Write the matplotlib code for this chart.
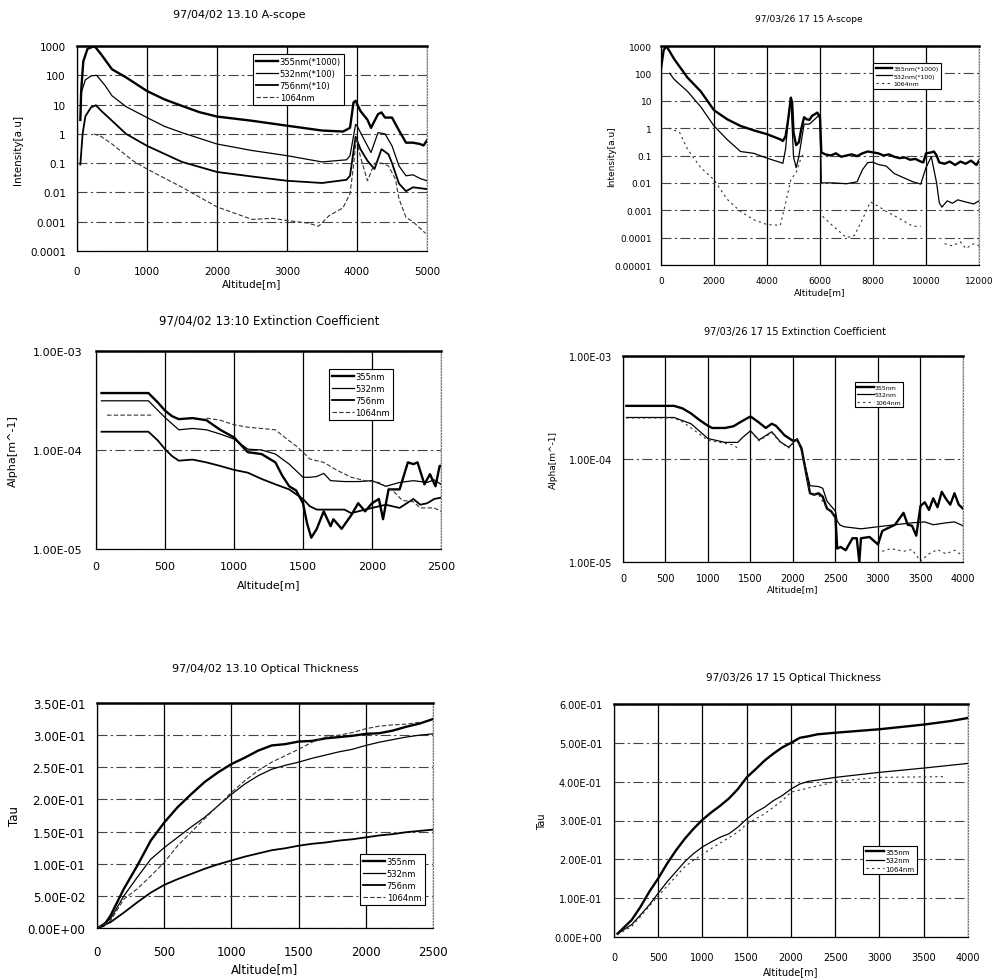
import matplotlib
matplotlib.use("Agg")
import matplotlib.pyplot as plt
from matplotlib.ticker import NullLocator
import numpy as np

W, H = 995, 979

# ---- 97/04/02 13:10 A-scope  (altitude [m], intensity [a.u]) ----
s1_355 = [(48, 3), (60, 30), (90, 300), (150, 800), (250, 1000), (350, 500), (500, 160),
          (700, 85), (1000, 29), (1250, 15), (1500, 9), (1750, 5.5), (2000, 3.9), (2500, 2.8),
          (3000, 1.9), (3500, 1.3), (3800, 1.2), (3900, 1.6), (3950, 11.7), (3980, 13.5),
          (4050, 6), (4150, 3), (4200, 1.6), (4300, 4.7), (4350, 5.4), (4400, 3.6), (4500, 3.6),
          (4600, 1.3), (4700, 0.5), (4800, 0.5), (4900, 0.45), (4950, 0.4), (5000, 0.6)]
s1_532 = [(50, 20), (70, 30), (120, 70), (200, 95), (280, 100), (400, 45), (500, 20),
          (700, 8.5), (1000, 3.6), (1250, 1.8), (1500, 1.1), (2000, 0.45), (2500, 0.27),
          (3000, 0.18), (3500, 0.11), (3850, 0.13), (3900, 0.18), (3980, 2.1), (4000, 1.9),
          (4100, 0.65), (4200, 0.23), (4300, 1.1), (4400, 1.0), (4500, 0.39), (4600, 0.08),
          (4700, 0.037), (4800, 0.04), (4900, 0.03), (5000, 0.025)]
s1_756 = [(48, 0.09), (80, 1.0), (120, 4), (200, 8), (270, 9.5), (350, 6), (500, 2.8),
          (700, 1.0), (1000, 0.39), (1500, 0.11), (2000, 0.05), (2500, 0.035), (3000, 0.025),
          (3500, 0.021), (3850, 0.027), (3900, 0.037), (3980, 0.8), (4050, 0.3), (4150, 0.12),
          (4250, 0.063), (4350, 0.3), (4450, 0.2), (4500, 0.1), (4600, 0.02), (4700, 0.011),
          (4800, 0.015), (5000, 0.013)]
s1_1064 = [(240, 1), (350, 0.8), (500, 0.45), (800, 0.12), (1000, 0.063), (1500, 0.015),
           (2000, 0.0032), (2500, 0.0012), (2800, 0.0013), (3000, 0.0011), (3300, 0.0009),
           (3450, 0.0007), (3600, 0.0016), (3800, 0.003), (3900, 0.009), (3950, 0.08),
           (3990, 0.75), (4050, 0.16), (4150, 0.025), (4250, 0.1), (4350, 0.1), (4450, 0.08),
           (4550, 0.028), (4600, 0.006), (4700, 0.0014), (4800, 0.001), (4900, 0.0006),
           (4980, 0.0004)]

# ---- 97/03/26 17:15 A-scope ----
s2_355 = [(0, 150), (100, 700), (200, 1000), (300, 700), (500, 330), (1000, 70), (1500, 22),
          (2000, 4.5), (2500, 2.1), (3000, 1.2), (3500, 0.83), (4000, 0.6), (4500, 0.39),
          (4600, 0.34), (4700, 0.5), (4800, 2.1), (4900, 13), (4950, 8.5), (5000, 0.7),
          (5100, 0.24), (5200, 0.3), (5300, 1.0), (5400, 2.5), (5500, 2.1), (5600, 2.0),
          (5700, 2.8), (5800, 3.2), (5900, 3.7), (6000, 2.4), (6050, 0.13), (6200, 0.11),
          (6400, 0.1), (6600, 0.12), (6800, 0.09), (7000, 0.1), (7200, 0.11), (7400, 0.095),
          (7600, 0.12), (7800, 0.14), (8000, 0.13), (8200, 0.12), (8400, 0.1), (8600, 0.11),
          (8800, 0.09), (9000, 0.08), (9200, 0.085), (9400, 0.07), (9600, 0.075), (9800, 0.06),
          (9900, 0.056), (10000, 0.12), (10200, 0.13), (10300, 0.14), (10400, 0.1),
          (10500, 0.056), (10700, 0.05), (10900, 0.06), (11100, 0.045), (11300, 0.06),
          (11500, 0.05), (11700, 0.065), (11900, 0.045), (12000, 0.064)]
s2_532 = [(330, 100), (500, 60), (1000, 22), (1500, 6), (2000, 1.2), (2500, 0.38),
          (3000, 0.14), (3500, 0.12), (4000, 0.08), (4500, 0.056), (4600, 0.052), (4700, 0.17),
          (4800, 2.1), (4900, 13), (5000, 0.09), (5100, 0.036), (5200, 0.09), (5400, 1.4),
          (5600, 1.4), (5800, 2.1), (6000, 3.2), (6050, 0.01), (6500, 0.01), (7000, 0.0093),
          (7400, 0.011), (7600, 0.03), (7800, 0.055), (8000, 0.057), (8200, 0.047),
          (8500, 0.041), (8800, 0.022), (9000, 0.018), (9500, 0.011), (9800, 0.009),
          (10000, 0.036), (10200, 0.09), (10400, 0.01), (10500, 0.0019), (10600, 0.0013),
          (10800, 0.0022), (11000, 0.0018), (11200, 0.0024), (11500, 0.002), (11800, 0.0017),
          (12000, 0.0022)]
s2_1064 = [(300, 1), (700, 0.7), (1000, 0.17), (1500, 0.036), (2000, 0.013), (2500, 0.0025),
           (3000, 0.0009), (3500, 0.00045), (4000, 0.0003), (4500, 0.00028), (4700, 0.0018),
           (4900, 0.013), (5100, 0.024), (5300, 0.09), (5400, 0.12), (np.nan, np.nan),
           (6100, 0.0006), (6500, 0.00026), (7000, 0.0001), (7300, 0.00012), (7600, 0.00046),
           (7900, 0.002), (8200, 0.0014), (8500, 0.0009), (9000, 0.0005), (9500, 0.00026),
           (9800, 0.00026), (np.nan, np.nan), (10700, 0.00006), (11000, 0.00005),
           (11300, 0.00007), (11500, 0.00004), (11800, 0.00006), (12000, 0.00005)]

# ---- 97/04/02 13:10 Extinction Coefficient  (altitude [m], alpha [1/m]) ----
s3_355 = [(40, 3.76e-4), (380, 3.76e-4), (450, 3.0e-4), (500, 2.5e-4), (550, 2.2e-4),
          (600, 2.05e-4), (700, 2.1e-4), (800, 2.0e-4), (900, 1.6e-4), (1000, 1.34e-4),
          (1100, 9.5e-5), (1200, 9.1e-5), (1300, 7.5e-5), (1350, 5.5e-5), (1400, 4.3e-5),
          (1450, 3.9e-5), (1500, 2.9e-5), (1530, 1.8e-5), (1560, 1.3e-5), (1600, 1.6e-5),
          (1650, 2.4e-5), (1700, 1.7e-5), (1720, 2.0e-5), (1780, 1.6e-5), (1850, 2.2e-5),
          (1900, 2.9e-5), (1950, 2.4e-5), (2000, 2.9e-5), (2050, 3.2e-5), (2080, 2.0e-5),
          (2120, 4.0e-5), (2200, 4.0e-5), (2260, 7.5e-5), (2300, 7.2e-5), (2330, 7.5e-5),
          (2380, 4.5e-5), (2420, 5.7e-5), (2460, 4.3e-5), (2490, 6.9e-5), (2500, 6.9e-5)]
s3_532 = [(40, 3.14e-4), (380, 3.14e-4), (450, 2.5e-4), (500, 2.13e-4), (600, 1.6e-4),
          (700, 1.65e-4), (800, 1.6e-4), (900, 1.45e-4), (1000, 1.29e-4), (1100, 1.02e-4),
          (1200, 1.0e-4), (1300, 9.1e-5), (1400, 7.2e-5), (1500, 5.3e-5), (1550, 5.3e-5),
          (1600, 5.4e-5), (1650, 5.8e-5), (1700, 4.9e-5), (1800, 4.8e-5), (1900, 4.8e-5),
          (2000, 4.9e-5), (2100, 4.3e-5), (2200, 4.7e-5), (2300, 4.9e-5), (2400, 4.7e-5),
          (2450, 5.0e-5), (2500, 4.5e-5)]
s3_756 = [(40, 1.53e-4), (380, 1.53e-4), (450, 1.24e-4), (500, 1.02e-4), (550, 8.7e-5),
          (600, 7.8e-5), (700, 8.0e-5), (800, 7.5e-5), (900, 6.9e-5), (1000, 6.3e-5),
          (1100, 5.9e-5), (1200, 5.1e-5), (1300, 4.5e-5), (1400, 4.0e-5), (1500, 3.2e-5),
          (1550, 2.7e-5), (1600, 2.5e-5), (1700, 2.5e-5), (1800, 2.5e-5), (1850, 2.3e-5),
          (1900, 2.4e-5), (2000, 2.6e-5), (2100, 2.8e-5), (2200, 2.6e-5), (2300, 3.2e-5),
          (2350, 2.8e-5), (2400, 2.9e-5), (2450, 3.2e-5), (2500, 3.3e-5)]
s3_1064 = [(80, 2.25e-4), (400, 2.25e-4), (np.nan, np.nan), (800, 2.1e-4), (900, 2.0e-4),
           (1000, 1.8e-4), (1100, 1.7e-4), (1200, 1.65e-4), (1300, 1.6e-4), (1380, 1.3e-4),
           (1450, 1.1e-4), (1500, 9.5e-5), (1550, 8.1e-5), (1650, 7.5e-5), (1750, 6.2e-5),
           (1850, 5.3e-5), (1950, 4.9e-5), (2050, 4.7e-5), (2150, 3.9e-5), (2220, 3.1e-5),
           (2300, 3.0e-5), (2350, 2.6e-5), (2450, 2.6e-5), (2500, 2.4e-5)]

# ---- 97/03/26 17:15 Extinction Coefficient ----
s4_355 = [(40, 3.28e-4), (600, 3.28e-4), (700, 3.1e-4), (800, 2.77e-4), (900, 2.39e-4),
          (1000, 2.1e-4), (1050, 2.0e-4), (1200, 2.0e-4), (1300, 2.08e-4), (1400, 2.33e-4),
          (1500, 2.59e-4), (1600, 2.26e-4), (1680, 2.0e-4), (1750, 2.2e-4), (1800, 2.1e-4),
          (1900, 1.7e-4), (2000, 1.5e-4), (2050, 1.53e-4), (2100, 1.27e-4), (2150, 7.6e-5),
          (2200, 4.65e-5), (2250, 4.5e-5), (2300, 4.65e-5), (2350, 4.3e-5), (2400, 3.3e-5),
          (2450, 3.1e-5), (2500, 2.7e-5), (2520, 1.35e-5), (2560, 1.4e-5), (2620, 1.3e-5),
          (2700, 1.7e-5), (2750, 1.7e-5), (2780, 1.0e-5), (2800, 1.7e-5), (2900, 1.75e-5),
          (3000, 1.48e-5), (3050, 2.0e-5), (3100, 2.1e-5), (3200, 2.3e-5), (3300, 3.0e-5),
          (3350, 2.3e-5), (3400, 2.25e-5), (3450, 1.8e-5), (3500, 3.5e-5), (3550, 3.8e-5),
          (3600, 3.2e-5), (3650, 4.15e-5), (3700, 3.4e-5), (3750, 4.8e-5), (3800, 4.1e-5),
          (3850, 3.6e-5), (3900, 4.65e-5), (3950, 3.6e-5), (4000, 3.3e-5)]
s4_532 = [(40, 2.53e-4), (600, 2.53e-4), (800, 2.2e-4), (1000, 1.58e-4), (1200, 1.45e-4),
          (1350, 1.45e-4), (1400, 1.6e-4), (1500, 1.88e-4), (1600, 1.53e-4), (1750, 1.84e-4),
          (1850, 1.47e-4), (1950, 1.3e-4), (2050, 1.58e-4), (2100, 1.22e-4), (2150, 8.1e-5),
          (2200, 5.5e-5), (2300, 5.4e-5), (2350, 5.2e-5), (2400, 3.9e-5), (2500, 3.1e-5),
          (2520, 2.5e-5), (2550, 2.3e-5), (2600, 2.2e-5), (2800, 2.1e-5), (3000, 2.2e-5),
          (3200, 2.3e-5), (3400, 2.4e-5), (3550, 2.45e-5), (3650, 2.3e-5), (3800, 2.4e-5),
          (3900, 2.45e-5), (4000, 2.25e-5)]
s4_1064 = [(40, 2.5e-4), (600, 2.5e-4), (700, 2.3e-4), (1000, 1.52e-4), (1300, 1.37e-4),
           (1350, 1.27e-4), (np.nan, np.nan), (1500, 1.85e-4), (1600, 1.5e-4), (1750, 1.8e-4),
           (1850, 1.45e-4), (1950, 1.28e-4), (2050, 1.55e-4), (2100, 1.2e-4), (2150, 7.5e-5),
           (2200, 4.6e-5), (2300, 4.5e-5), (2400, 3.3e-5), (2500, 2.8e-5), (np.nan, np.nan),
           (3050, 1.27e-5), (3150, 1.35e-5), (3300, 1.27e-5), (3400, 1.32e-5), (3500, 1.02e-5),
           (3600, 1.2e-5), (3700, 1.32e-5), (3800, 1.2e-5), (3900, 1.3e-5), (4000, 1.15e-5)]

# ---- 97/04/02 13:10 Optical Thickness  (altitude [m], tau) ----
s5_355 = [(0, 0), (50, 0.0036), (100, 0.019), (200, 0.061), (300, 0.097), (400, 0.136),
          (500, 0.164), (600, 0.188), (700, 0.208), (800, 0.227), (900, 0.242), (1000, 0.255),
          (1100, 0.265), (1200, 0.276), (1300, 0.284), (1400, 0.286), (1500, 0.290),
          (1600, 0.291), (1700, 0.295), (1800, 0.297), (1900, 0.299), (2000, 0.302),
          (2100, 0.303), (2200, 0.307), (2300, 0.313), (2400, 0.318), (2500, 0.325)]
s5_532 = [(0, 0), (100, 0.014), (200, 0.050), (300, 0.079), (400, 0.107), (500, 0.125),
          (600, 0.141), (700, 0.157), (800, 0.172), (900, 0.190), (1000, 0.208), (1100, 0.224),
          (1200, 0.237), (1300, 0.247), (1400, 0.253), (1500, 0.258), (1600, 0.264),
          (1700, 0.269), (1800, 0.274), (1900, 0.278), (2000, 0.284), (2100, 0.289),
          (2200, 0.293), (2300, 0.297), (2400, 0.300), (2500, 0.302)]
s5_756 = [(0, 0), (100, 0.009), (200, 0.024), (300, 0.040), (400, 0.055), (500, 0.067),
          (600, 0.076), (700, 0.084), (800, 0.092), (900, 0.099), (1000, 0.105), (1100, 0.111),
          (1200, 0.116), (1300, 0.121), (1400, 0.124), (1500, 0.128), (1600, 0.131),
          (1700, 0.133), (1800, 0.136), (1900, 0.138), (2000, 0.141), (2100, 0.144),
          (2200, 0.146), (2300, 0.149), (2400, 0.151), (2500, 0.153)]
s5_1064 = [(0, 0), (100, 0.011), (200, 0.045), (300, 0.061), (400, 0.081), (500, 0.102),
           (600, 0.128), (700, 0.149), (800, 0.170), (900, 0.190), (1000, 0.211), (1100, 0.229),
           (1200, 0.245), (1300, 0.258), (1400, 0.268), (1500, 0.278), (1600, 0.289),
           (1700, 0.297), (1800, 0.300), (1900, 0.304), (2000, 0.310), (2100, 0.314),
           (2200, 0.316), (2300, 0.317), (2400, 0.320)]

# ---- 97/03/26 17:15 Optical Thickness ----
s6_355 = [(40, 0.0085), (200, 0.044), (300, 0.078), (400, 0.117), (500, 0.151), (600, 0.189),
          (700, 0.223), (800, 0.253), (900, 0.279), (1000, 0.302), (1100, 0.321), (1200, 0.338),
          (1300, 0.357), (1400, 0.381), (1500, 0.411), (1600, 0.432), (1700, 0.454),
          (1800, 0.472), (1900, 0.488), (2000, 0.500), (2100, 0.513), (2200, 0.517),
          (2300, 0.522), (2500, 0.526), (3000, 0.535), (3500, 0.547), (3800, 0.556),
          (4000, 0.564)]
s6_532 = [(40, 0.0085), (200, 0.032), (300, 0.057), (400, 0.083), (500, 0.113), (600, 0.142),
          (700, 0.168), (800, 0.194), (900, 0.215), (1000, 0.232), (1100, 0.245), (1200, 0.257),
          (1300, 0.266), (1400, 0.283), (1500, 0.304), (1600, 0.321), (1700, 0.334),
          (1800, 0.351), (1900, 0.364), (2000, 0.381), (2100, 0.394), (2200, 0.401),
          (2300, 0.404), (2500, 0.411), (3000, 0.424), (3500, 0.435), (4000, 0.447)]
s6_1064 = [(40, 0.006), (200, 0.027), (300, 0.053), (500, 0.106), (800, 0.181), (900, 0.198),
           (1100, 0.228), (1400, 0.270), (1500, 0.291), (1700, 0.317), (1900, 0.351),
           (2000, 0.373), (2200, 0.384), (2400, 0.394), (2500, 0.401), (3000, 0.411),
           (3750, 0.413)]

scope_ticks = [1e3, 1e2, 1e1, 1, 0.1, 0.01, 0.001, 0.0001, 0.00001]
scope_labels = ["1000", "100", "10", "1", "0.1", "0.01", "0.001", "0.0001", "0.00001"]
alpha_ticks = [1e-3, 1e-4, 1e-5]
alpha_labels = ["1.00E-03", "1.00E-04", "1.00E-05"]


def px_axes(fig, left, top, right, bottom):
    return fig.add_axes([left / W, 1 - bottom / H, (right - left) / W, (bottom - top) / H])


def style(ax, fs, xpad, ypad):
    ax.tick_params(length=0, labelsize=fs)
    ax.tick_params(axis="x", pad=xpad)
    ax.tick_params(axis="y", pad=ypad)
    ax.grid(True, axis="x", color="black", lw=0.9)
    ax.grid(True, axis="y", color="#444444", lw=0.8, linestyle=(0, (9, 3, 2, 3)))
    ax.yaxis.set_minor_locator(NullLocator())
    ax.xaxis.set_minor_locator(NullLocator())
    for s in ("left", "bottom"):
        ax.spines[s].set_linewidth(0.9)
    ax.spines["top"].set_linewidth(1.8)
    ax.spines["right"].set_linestyle(":")
    ax.spines["right"].set_color("#777777")
    ax.set_axisbelow(True)


def draw(ax, data, **kw):
    d = np.array(data, dtype=float)
    ax.plot(d[:, 0], d[:, 1], **kw)


def labels(ax, fig, title, tx, ty, tfs, ylab, xl_y, yl_x, fs):
    fig.text(tx / W, 1 - ty / H, title, ha="center", va="center", fontsize=tfs)
    ax.set_xlabel("Altitude[m]", fontsize=fs)
    ax.set_ylabel(ylab, fontsize=fs)
    ax.xaxis.set_label_coords(0.5, xl_y)
    ax.yaxis.set_label_coords(yl_x, 0.5)
    ax.xaxis.label.set_va("center")
    ax.yaxis.label.set_va("center")


def legend(ax, anchor, fs):
    leg = ax.legend(loc="upper left", bbox_to_anchor=anchor, fontsize=fs, frameon=True,
                    fancybox=False, edgecolor="black", framealpha=1, handlelength=2.6,
                    handletextpad=0.2, borderpad=0.4, labelspacing=0.35, borderaxespad=0)
    leg.get_frame().set_linewidth(0.8)


plt.rcParams["font.family"] = ["DejaVu Sans"]
fig = plt.figure(figsize=(W / 100, H / 100), dpi=100)

thick = dict(color="black", lw=1.7)
thin = dict(color="black", lw=0.9)
mid = dict(color="black", lw=1.3)
dash = dict(color="#333333", lw=0.8, linestyle=(0, (4, 2)))
dot = dict(color="#333333", lw=0.8, linestyle=(0, (2, 3)))

# top-left: A-scope 97/04/02
ax = px_axes(fig, 77, 47, 427, 252)
style(ax, 7.5, 11, 8)
draw(ax, s1_355, label="355nm(*1000)", **thick)
draw(ax, s1_532, label="532nm(*100)", **thin)
draw(ax, s1_756, label="756nm(*10)", **mid)
draw(ax, s1_1064, label="1064nm", **dash)
ax.set_yscale("log")
ax.set_xlim(0, 5000)
ax.set_ylim(1e-4, 1e3)
ax.set_yticks(scope_ticks[:8], scope_labels[:8])
ax.set_xticks(range(0, 5001, 1000))
ax.yaxis.set_minor_locator(NullLocator())
legend(ax, (0.503, 0.961), 6)
labels(ax, fig, "97/04/02 13.10 A-scope", 239, 15, 8, "Intensity[a.u]", -0.156, -0.169, 7.5)

# top-right: A-scope 97/03/26
ax = px_axes(fig, 661, 47, 979, 266)
style(ax, 6.5, 8, 6.5)
draw(ax, s2_355, label="355nm(*1000)", **thick)
draw(ax, s2_532, label="532nm(*100)", **thin)
draw(ax, s2_1064, label="1064nm", **dot)
ax.set_yscale("log")
ax.set_xlim(0, 12000)
ax.set_ylim(1e-5, 1e3)
ax.set_yticks(scope_ticks, scope_labels)
ax.set_xticks(range(0, 12001, 2000))
ax.yaxis.set_minor_locator(NullLocator())
legend(ax, (0.667, 0.922), 4.5)
labels(ax, fig, "97/03/26 17 15 A-scope", 809, 19, 6.5, "Intensity[a.u]", -0.123, -0.154, 6.5)

# middle-left: extinction 97/04/02
ax = px_axes(fig, 96, 352, 441, 550)
style(ax, 8, 9, 10)
draw(ax, s3_355, label="355nm", **thick)
draw(ax, s3_532, label="532nm", **thin)
draw(ax, s3_756, label="756nm", **mid)
draw(ax, s3_1064, label="1064nm", **dash)
ax.set_yscale("log")
ax.set_xlim(0, 2500)
ax.set_ylim(1e-5, 1e-3)
ax.set_yticks(alpha_ticks, alpha_labels)
ax.set_xticks(range(0, 2501, 500))
ax.yaxis.set_minor_locator(NullLocator())
legend(ax, (0.675, 0.909), 6)
labels(ax, fig, "97/04/02 13:10 Extinction Coefficient", 269, 321, 8.5,
       "Alpha[m^-1]", -0.177, -0.241, 8)

# middle-right: extinction 97/03/26
ax = px_axes(fig, 623, 357, 963, 563)
style(ax, 7, 8, 8)
draw(ax, s4_355, label="355nm", **thick)
draw(ax, s4_532, label="532nm", **thin)
draw(ax, s4_1064, label="1064nm", **dot)
ax.set_yscale("log")
ax.set_xlim(0, 4000)
ax.set_ylim(1e-5, 1e-3)
ax.set_yticks(alpha_ticks, alpha_labels)
ax.set_xticks(range(0, 4001, 500))
ax.yaxis.set_minor_locator(NullLocator())
legend(ax, (0.682, 0.874), 4.5)
labels(ax, fig, "97/03/26 17 15 Extinction Coefficient", 795, 332, 7,
       "Alpha[m^-1]", -0.130, -0.206, 6.5)

# bottom-left: optical thickness 97/04/02
ax = px_axes(fig, 97, 704, 433, 929)
style(ax, 8.5, 12, 8.5)
draw(ax, s5_355, label="355nm", **thick)
draw(ax, s5_532, label="532nm", **thin)
draw(ax, s5_756, label="756nm", **mid)
draw(ax, s5_1064, label="1064nm", **dash)
ax.set_xlim(0, 2500)
ax.set_ylim(0, 0.35)
tau5 = np.arange(0, 0.351, 0.05)
ax.set_yticks(tau5, [f"{v:.2E}" for v in tau5])
ax.set_xticks(range(0, 2501, 500))
legend(ax, (0.783, 0.329), 6)
labels(ax, fig, "97/04/02 13.10 Optical Thickness", 265, 669, 8,
       "Tau", -0.178, -0.247, 8.5)

# bottom-right: optical thickness 97/03/26
ax = px_axes(fig, 614, 705, 968, 938)
style(ax, 7, 11, 8.5)
draw(ax, s6_355, label="355nm", **thick)
draw(ax, s6_532, label="532nm", **thin)
draw(ax, s6_1064, label="1064nm", **dot)
ax.set_xlim(0, 4000)
ax.set_ylim(0, 0.6)
tau6 = np.arange(0, 0.601, 0.1)
ax.set_yticks(tau6, [f"{v:.2E}" for v in tau6])
ax.set_xticks(range(0, 4001, 500))
legend(ax, (0.703, 0.391), 5)
labels(ax, fig, "97/03/26 17 15 Optical Thickness", 794, 678, 7.5,
       "Tau", -0.146, -0.203, 7)

fig.savefig("out.png", dpi=100, facecolor="white")
